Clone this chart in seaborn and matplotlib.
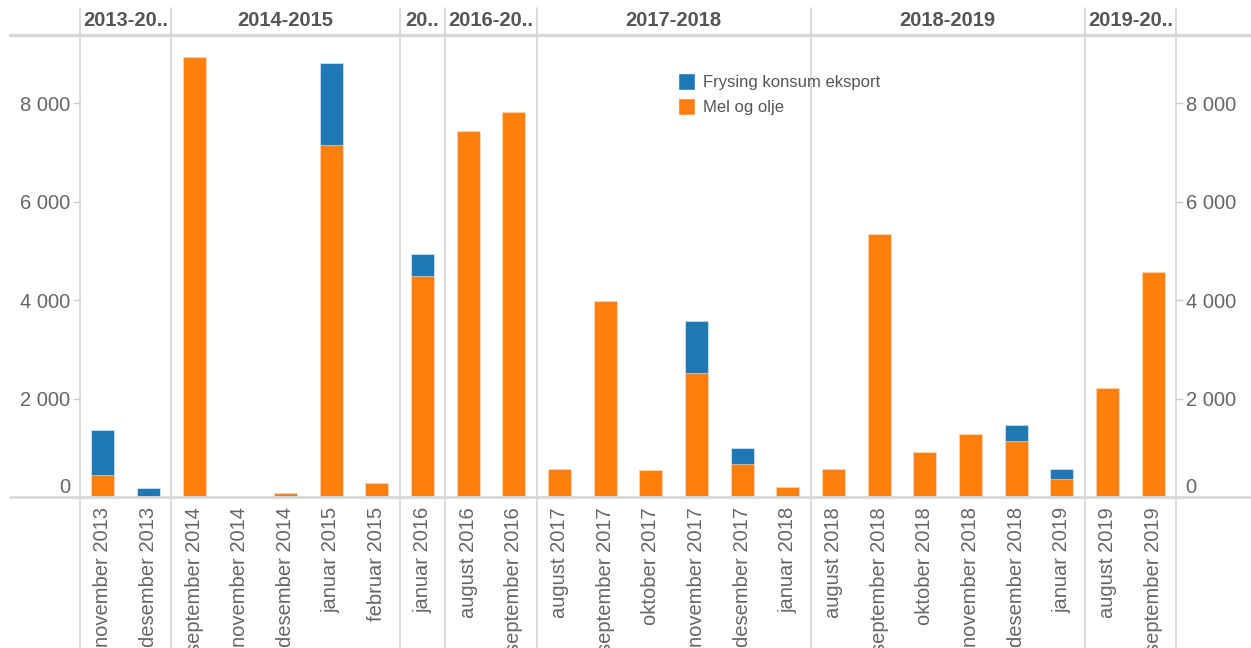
import matplotlib
matplotlib.use("Agg")
import matplotlib.pyplot as plt
import seaborn as sns
import pandas as pd
from itertools import groupby
from matplotlib.patches import Patch
from matplotlib.ticker import FuncFormatter

# data
months = ["november 2013", "desember 2013",
          "september 2014", "november 2014", "desember 2014", "januar 2015", "februar 2015",
          "januar 2016",
          "august 2016", "september 2016",
          "august 2017", "september 2017", "oktober 2017", "november 2017", "desember 2017", "januar 2018",
          "august 2018", "september 2018", "oktober 2018", "november 2018", "desember 2018", "januar 2019",
          "august 2019", "september 2019"]
seasons = ["2013-2014", "2013-2014",
           "2014-2015", "2014-2015", "2014-2015", "2014-2015", "2014-2015",
           "2015-2016",
           "2016-2017", "2016-2017",
           "2017-2018", "2017-2018", "2017-2018", "2017-2018", "2017-2018", "2017-2018",
           "2018-2019", "2018-2019", "2018-2019", "2018-2019", "2018-2019", "2018-2019",
           "2019-2020", "2019-2020"]
header_labels = ["2013-20..", "2014-2015", "20..", "2016-20..", "2017-2018", "2018-2019", "2019-20.."]
mel_og_olje = [453, 0,
               8940, 0, 87, 7147, 290,
               4500,
               7431, 7823,
               575, 3980, 548, 2518, 683, 209,
               575, 5353, 913, 1279, 1150, 365,
               2213, 4575]
frysing = [913, 183,
           0, 0, 0, 1665, 0,
           434,
           0, 0,
           0, 0, 0, 1068, 312, 0,
           0, 0, 0, 0, 312, 210,
           0, 0]

BLUE = "#1f77b4"
ORANGE = "#ff7f0e"
LINE = "#d9d9d9"
TXT = "#666666"

df = pd.DataFrame({"month": months, "season": seasons,
                   "mel": mel_og_olje, "frysing": frysing})
df["total"] = df["mel"] + df["frysing"]

sns.set_theme(style="white")
plt.rcParams["font.family"] = ["Liberation Sans", "DejaVu Sans"]

W, H = 1251, 648
fig = plt.figure(figsize=(W / 100, H / 100), dpi=100)
top_px, base_px, left_px, right_px = 35, 497.3, 80, 1176
ax_h = base_px - top_px
ax = fig.add_axes([left_px / W, (H - base_px) / H, (right_px - left_px) / W, ax_h / H])

# stacked bars: total in blue, orange drawn over it
sns.barplot(data=df, x="month", y="total", color=BLUE, saturation=1, width=0.5,
            edgecolor=(1, 1, 1, 0.45), linewidth=0.8, ax=ax)
sns.barplot(data=df, x="month", y="mel", color=ORANGE, saturation=1, width=0.5,
            edgecolor=(1, 1, 1, 0.45), linewidth=0.8, ax=ax)

ax.set_xlim(-0.5, len(months) - 0.5)
ax.set_ylim(0, ax_h / 49.25 * 1000)
ax.set_xlabel("")
ax.set_ylabel("")
for s in ax.spines.values():
    s.set_visible(False)

ax.set_yticks([0, 2000, 4000, 6000, 8000])
ax.yaxis.set_major_formatter(FuncFormatter(lambda v, p: f"{int(v):,}".replace(",", " ")))
ax.tick_params(axis="y", left=True, right=True, labelleft=True, labelright=True,
               length=5, width=1, color="#cccccc", labelcolor=TXT, labelsize=14.5, pad=2)
ax.tick_params(axis="x", which="major", length=0, pad=7, labelsize=14.5,
               labelcolor=TXT, rotation=90)
ax.set_xticks([i + 0.5 for i in range(len(months) - 1)], minor=True)
ax.tick_params(axis="x", which="minor", length=4, width=1, color=LINE)

# lift the "0" labels off the baseline
fig.canvas.draw()
for t in ax.yaxis.get_major_ticks():
    if t.label1.get_text() == "0":
        t.label1.set_verticalalignment("bottom")
        t.label2.set_verticalalignment("bottom")

# panel separators and season headers
ymin = -(H - base_px) / ax_h
ymax = 1 + (top_px - 8) / ax_h
pos = -0.5
edges = [pos]
groups = [(k, len(list(g))) for k, g in groupby(seasons)]
for (season, n), label in zip(groups, header_labels):
    ax.text(pos + n / 2, 1 + (top_px - 20) / ax_h, label, transform=ax.get_xaxis_transform(),
            ha="center", va="center", fontsize=14.5, fontweight="bold", color="#555555")
    pos += n
    edges.append(pos)
for x in edges:
    ax.axvline(x, ymin=ymin, ymax=ymax, color=LINE, lw=1.3, clip_on=False, zorder=0)

x0 = (10 - left_px) / (right_px - left_px)
x1 = (W - left_px) / (right_px - left_px)
ax.plot([x0, x1], [0, 0], transform=ax.transAxes, color=LINE, lw=2, clip_on=False, zorder=3)
ax.plot([x0, x1], [1, 1], transform=ax.transAxes, color=LINE, lw=2.5, clip_on=False, zorder=3)

handles = [Patch(facecolor=BLUE, label="Frysing konsum eksport"),
           Patch(facecolor=ORANGE, label="Mel og olje")]
leg = fig.legend(handles=handles, loc="upper left", bbox_to_anchor=(678 / W, 1 - 73 / H),
                 frameon=False, fontsize=12, handlelength=1.0, handleheight=1.2,
                 handletextpad=0.5, labelspacing=0.45, borderpad=0, borderaxespad=0)
for t in leg.get_texts():
    t.set_color("#555555")

fig.savefig("out.png", dpi=100)
